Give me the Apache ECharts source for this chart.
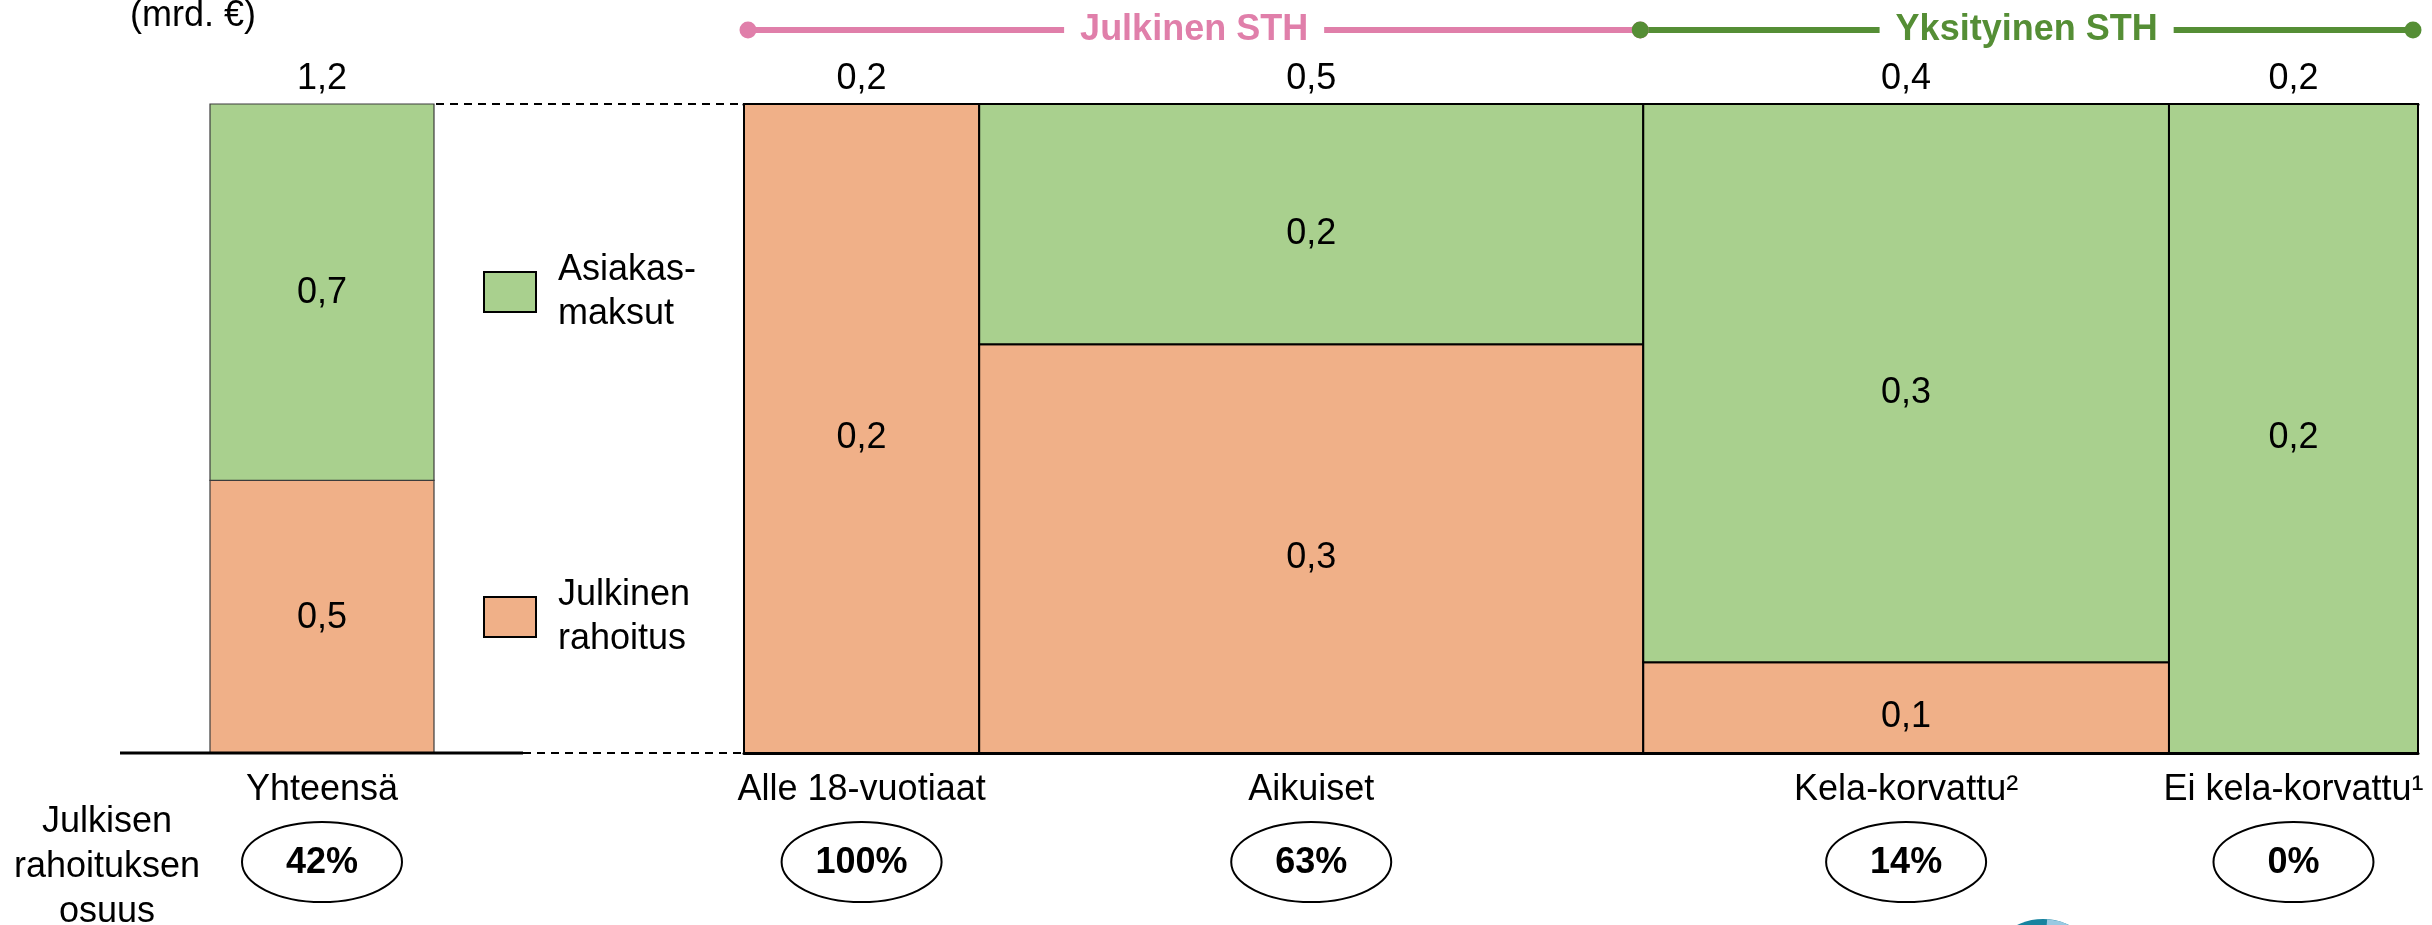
<!DOCTYPE html>
<html>
<head>
<meta charset="utf-8">
<title>Suun terveydenhuollon rahoitus</title>
<script src="https://cdn.jsdelivr.net/npm/echarts@6/dist/echarts.min.js"></script>
<style>
  html, body { margin: 0; padding: 0; background: #ffffff; }
  #chart { width: 2432px; height: 925px; }
</style>
</head>
<body>
<div id="chart"></div>
<script>
// Spending by service group (billion €) and the public share of each
const categories = ['Alle 18-vuotiaat', 'Aikuiset', 'Kela-korvattu²', 'Ei kela-korvattu¹'];
const spending = [0.17, 0.48, 0.38, 0.18];
const publicShare = [1.00, 0.63, 0.14, 0.00];
const sectors = ['Julkinen STH', 'Julkinen STH', 'Yksityinen STH', 'Yksityinen STH'];

// Overall column
const totalCategory = ['Yhteensä'];
const totalSpending = [1.2];
const totalPublicShare = [0.42];

const legendNames = ['Asiakasmaksut', 'Julkinen rahoitus'];
const legendLabels = { 'Asiakasmaksut': 'Asiakas-\nmaksut', 'Julkinen rahoitus': 'Julkinen\nrahoitus' };
const unitLabel = '(mrd. €)';
const shareTitle = 'Julkisen\nrahoituksen\nosuus';

const FONT = '"Liberation Sans", Arial, Helvetica, sans-serif';
const COLOR = {
  public: '#F0B088',
  client: '#A9D08E',
  julkinen: '#E07FAA',
  yksityinen: '#558E35'
};
const SECTOR_COLOR = { 'Julkinen STH': COLOR.julkinen, 'Yksityinen STH': COLOR.yksityinen };

const fmt = v => v.toFixed(1).replace('.', ',');
const pct = v => Math.round(v * 100) + '%';

// Each row: [x start, x end, public share, total, index]
function buildRows(totals, shares) {
  let x = 0;
  return totals.map((t, i) => {
    const row = [x, x + t, shares[i], t, i];
    x += t;
    return row;
  });
}
const colRows = buildRows(spending, publicShare);
const totalRows = buildRows(totalSpending, totalPublicShare);
const xMax = spending.reduce((a, b) => a + b, 0);

// One stacked segment (public part at the bottom, client fees above)
function segmentRenderer(kind, stroke, lineWidth, labelShift) {
  return function (params, api) {
    const x0 = api.value(0), x1 = api.value(1), share = api.value(2), total = api.value(3);
    const lo = kind === 'public' ? 0 : share;
    const hi = kind === 'public' ? share : 1;
    if (hi - lo <= 0.0001) return { type: 'group', children: [] };
    const a = api.coord([x0, hi]);
    const b = api.coord([x1, lo]);
    return {
      type: 'group',
      children: [
        {
          type: 'rect',
          shape: { x: a[0], y: a[1], width: b[0] - a[0], height: b[1] - a[1] },
          style: { fill: api.visual('color'), stroke: stroke, lineWidth: lineWidth }
        },
        {
          type: 'text',
          x: (a[0] + b[0]) / 2,
          y: (a[1] + b[1]) / 2 + labelShift,
          style: {
            text: fmt(total * (hi - lo)),
            font: '36px ' + FONT, fill: '#000',
            textAlign: 'center', textVerticalAlign: 'middle',
            align: 'center', verticalAlign: 'middle'
          }
        }
      ]
    };
  };
}

// Total above each column, name below it and the public share in an ellipse
function annotationRenderer(names) {
  return function (params, api) {
    const x0 = api.value(0), x1 = api.value(1), share = api.value(2), total = api.value(3);
    const idx = api.value(4);
    const top = api.coord([(x0 + x1) / 2, 1]);
    const base = api.coord([(x0 + x1) / 2, 0]);
    const cx = top[0];
    const txt = (text, y, weight) => ({
      type: 'text', x: cx, y: y,
      style: {
        text: text, font: (weight || 'normal') + ' 36px ' + FONT, fill: '#000',
        textAlign: 'center', textVerticalAlign: 'middle', align: 'center', verticalAlign: 'middle'
      }
    });
    return {
      type: 'group',
      children: [
        txt(fmt(total), top[1] - 25),
        txt(names[idx], base[1] + 37),
        {
          type: 'ellipse',
          shape: { cx: cx, cy: base[1] + 109, rx: 80, ry: 40 },
          style: { fill: '#fff', stroke: '#000', lineWidth: 2 }
        },
        txt(pct(share), base[1] + 110, 'bold')
      ]
    };
  };
}

const chart = echarts.init(document.getElementById('chart'), null, { renderer: 'canvas' });

const hiddenValueAxis = (grid, max) => ({
  gridIndex: grid, type: 'value', min: 0, max: max, show: false
});

chart.setOption({
  animation: false,
  backgroundColor: '#ffffff',
  grid: [
    { left: 210, top: 104, width: 224, height: 649 },
    { left: 744, top: 104, width: 1674, height: 649 }
  ],
  xAxis: [
    hiddenValueAxis(0, totalSpending[0]),
    {
      gridIndex: 1, type: 'value', min: 0, max: xMax, position: 'bottom',
      axisLine: { show: true, onZero: false, lineStyle: { color: '#000', width: 3 } },
      axisTick: { show: false }, axisLabel: { show: false }, splitLine: { show: false }
    },
    {
      gridIndex: 1, type: 'value', min: 0, max: xMax, position: 'top',
      axisLine: { show: true, onZero: false, lineStyle: { color: '#000', width: 3 } },
      axisTick: { show: false }, axisLabel: { show: false }, splitLine: { show: false }
    }
  ],
  yAxis: [hiddenValueAxis(0, 1), hiddenValueAxis(1, 1)],
  legend: {
    data: legendNames,
    orient: 'vertical',
    left: 483, top: 245,
    padding: 0,
    itemWidth: 52, itemHeight: 40, itemGap: 231,
    icon: 'rect',
    selectedMode: false,
    itemStyle: { borderColor: '#000', borderWidth: 2 },
    formatter: n => legendLabels[n],
    textStyle: { fontFamily: FONT, fontSize: 36, lineHeight: 44, color: '#000', padding: [6, 0, 0, 17] }
  },
  series: [
    {
      name: 'Julkinen rahoitus', type: 'custom', xAxisIndex: 0, yAxisIndex: 0,
      itemStyle: { color: COLOR.public }, data: totalRows,
      renderItem: segmentRenderer('public', '#3c3c3c', 1.2, 1)
    },
    {
      name: 'Asiakasmaksut', type: 'custom', xAxisIndex: 0, yAxisIndex: 0,
      itemStyle: { color: COLOR.client }, data: totalRows,
      renderItem: segmentRenderer('client', '#3c3c3c', 1.2, 1)
    },
    {
      name: 'Julkinen rahoitus', type: 'custom', xAxisIndex: 1, yAxisIndex: 1,
      itemStyle: { color: COLOR.public }, data: colRows,
      renderItem: segmentRenderer('public', '#000', 2, 10)
    },
    {
      name: 'Asiakasmaksut', type: 'custom', xAxisIndex: 1, yAxisIndex: 1,
      itemStyle: { color: COLOR.client }, data: colRows,
      renderItem: segmentRenderer('client', '#000', 2, 10)
    },
    {
      name: 'totals', type: 'custom', xAxisIndex: 0, yAxisIndex: 0, z: 5,
      data: totalRows, renderItem: annotationRenderer(totalCategory)
    },
    {
      name: 'groups', type: 'custom', xAxisIndex: 1, yAxisIndex: 1, z: 5,
      data: colRows, renderItem: annotationRenderer(categories)
    }
  ]
});

// Connectors, sector brackets and side texts placed from the axes' pixel positions
const totalTopRight = chart.convertToPixel({ xAxisIndex: 0, yAxisIndex: 0 }, [totalSpending[0], 1]);
const totalBaseLeft = chart.convertToPixel({ xAxisIndex: 0, yAxisIndex: 0 }, [0, 0]);
const groupTopLeft = chart.convertToPixel({ xAxisIndex: 1, yAxisIndex: 1 }, [0, 1]);
const groupBaseLeft = chart.convertToPixel({ xAxisIndex: 1, yAxisIndex: 1 }, [0, 0]);

const graphics = [];
const dashed = { stroke: '#000', lineWidth: 2, lineDash: [8, 6] };

// top connector between the overall column and the groups
graphics.push({
  type: 'line', z: 10,
  shape: { x1: totalTopRight[0] + 2, y1: totalTopRight[1], x2: groupTopLeft[0], y2: groupTopLeft[1] },
  style: dashed
});
// base line: solid under the overall column, dashed towards the groups
const solidEnd = totalTopRight[0] + 89;
graphics.push({
  type: 'line', z: 10,
  shape: { x1: totalBaseLeft[0] - 90, y1: totalBaseLeft[1], x2: solidEnd, y2: totalBaseLeft[1] },
  style: { stroke: '#000', lineWidth: 3 }
});
graphics.push({
  type: 'line', z: 10,
  shape: { x1: solidEnd, y1: groupBaseLeft[1], x2: groupBaseLeft[0], y2: groupBaseLeft[1] },
  style: dashed
});

// sector brackets above the columns; neighbouring brackets share the joint dot
const sectorOrder = [];
sectors.forEach(s => { if (sectorOrder.indexOf(s) < 0) sectorOrder.push(s); });
sectorOrder.forEach(s => {
  const first = sectors.indexOf(s);
  const last = sectors.lastIndexOf(s);
  const p0 = chart.convertToPixel({ xAxisIndex: 1, yAxisIndex: 1 }, [colRows[first][0], 1]);
  const p1 = chart.convertToPixel({ xAxisIndex: 1, yAxisIndex: 1 }, [colRows[last][1], 1]);
  const y = p0[1] - 74;
  const xa = p0[0] + (first === 0 ? 4 : -3);
  const xb = p1[0] - (last === sectors.length - 1 ? 5 : 3);
  const c = SECTOR_COLOR[s];
  graphics.push({ type: 'line', z: 20, shape: { x1: xa, y1: y, x2: xb, y2: y }, style: { stroke: c, lineWidth: 6 } });
  graphics.push({ type: 'circle', z: 21, shape: { cx: xa, cy: y, r: 8.5 }, style: { fill: c } });
  graphics.push({ type: 'circle', z: 21, shape: { cx: xb, cy: y, r: 8.5 }, style: { fill: c } });
  graphics.push({
    type: 'text', z: 22, x: (xa + xb) / 2, y: y,
    style: {
      text: s, font: 'bold 36px ' + FONT, fill: c,
      textAlign: 'center', textVerticalAlign: 'middle', align: 'center', verticalAlign: 'middle',
      backgroundColor: '#fff', padding: [0, 16]
    }
  });
});

// unit label and the row title for the shares
graphics.push({
  type: 'text', x: 130, y: 16,
  style: { text: unitLabel, font: '36px ' + FONT, fill: '#000', textAlign: 'left', textVerticalAlign: 'middle', align: 'left', verticalAlign: 'middle' }
});
graphics.push({
  type: 'text', x: 107, y: 800,
  style: {
    text: shareTitle, font: '36px ' + FONT, fill: '#000', lineHeight: 45,
    textAlign: 'center', textVerticalAlign: 'top', align: 'center', verticalAlign: 'top'
  }
});

// logo peeking in at the bottom edge
graphics.push({ type: 'circle', shape: { cx: 2043, cy: 978, r: 59 }, style: { fill: '#17839F' } });
graphics.push({
  type: 'sector',
  shape: { cx: 2043, cy: 978, r: 59, r0: 0, startAngle: -Math.PI / 2 + 0.07, endAngle: -Math.PI / 6, clockwise: true },
  style: { fill: '#98C9E2' }
});

chart.setOption({ graphic: graphics });
</script>
</body>
</html>
